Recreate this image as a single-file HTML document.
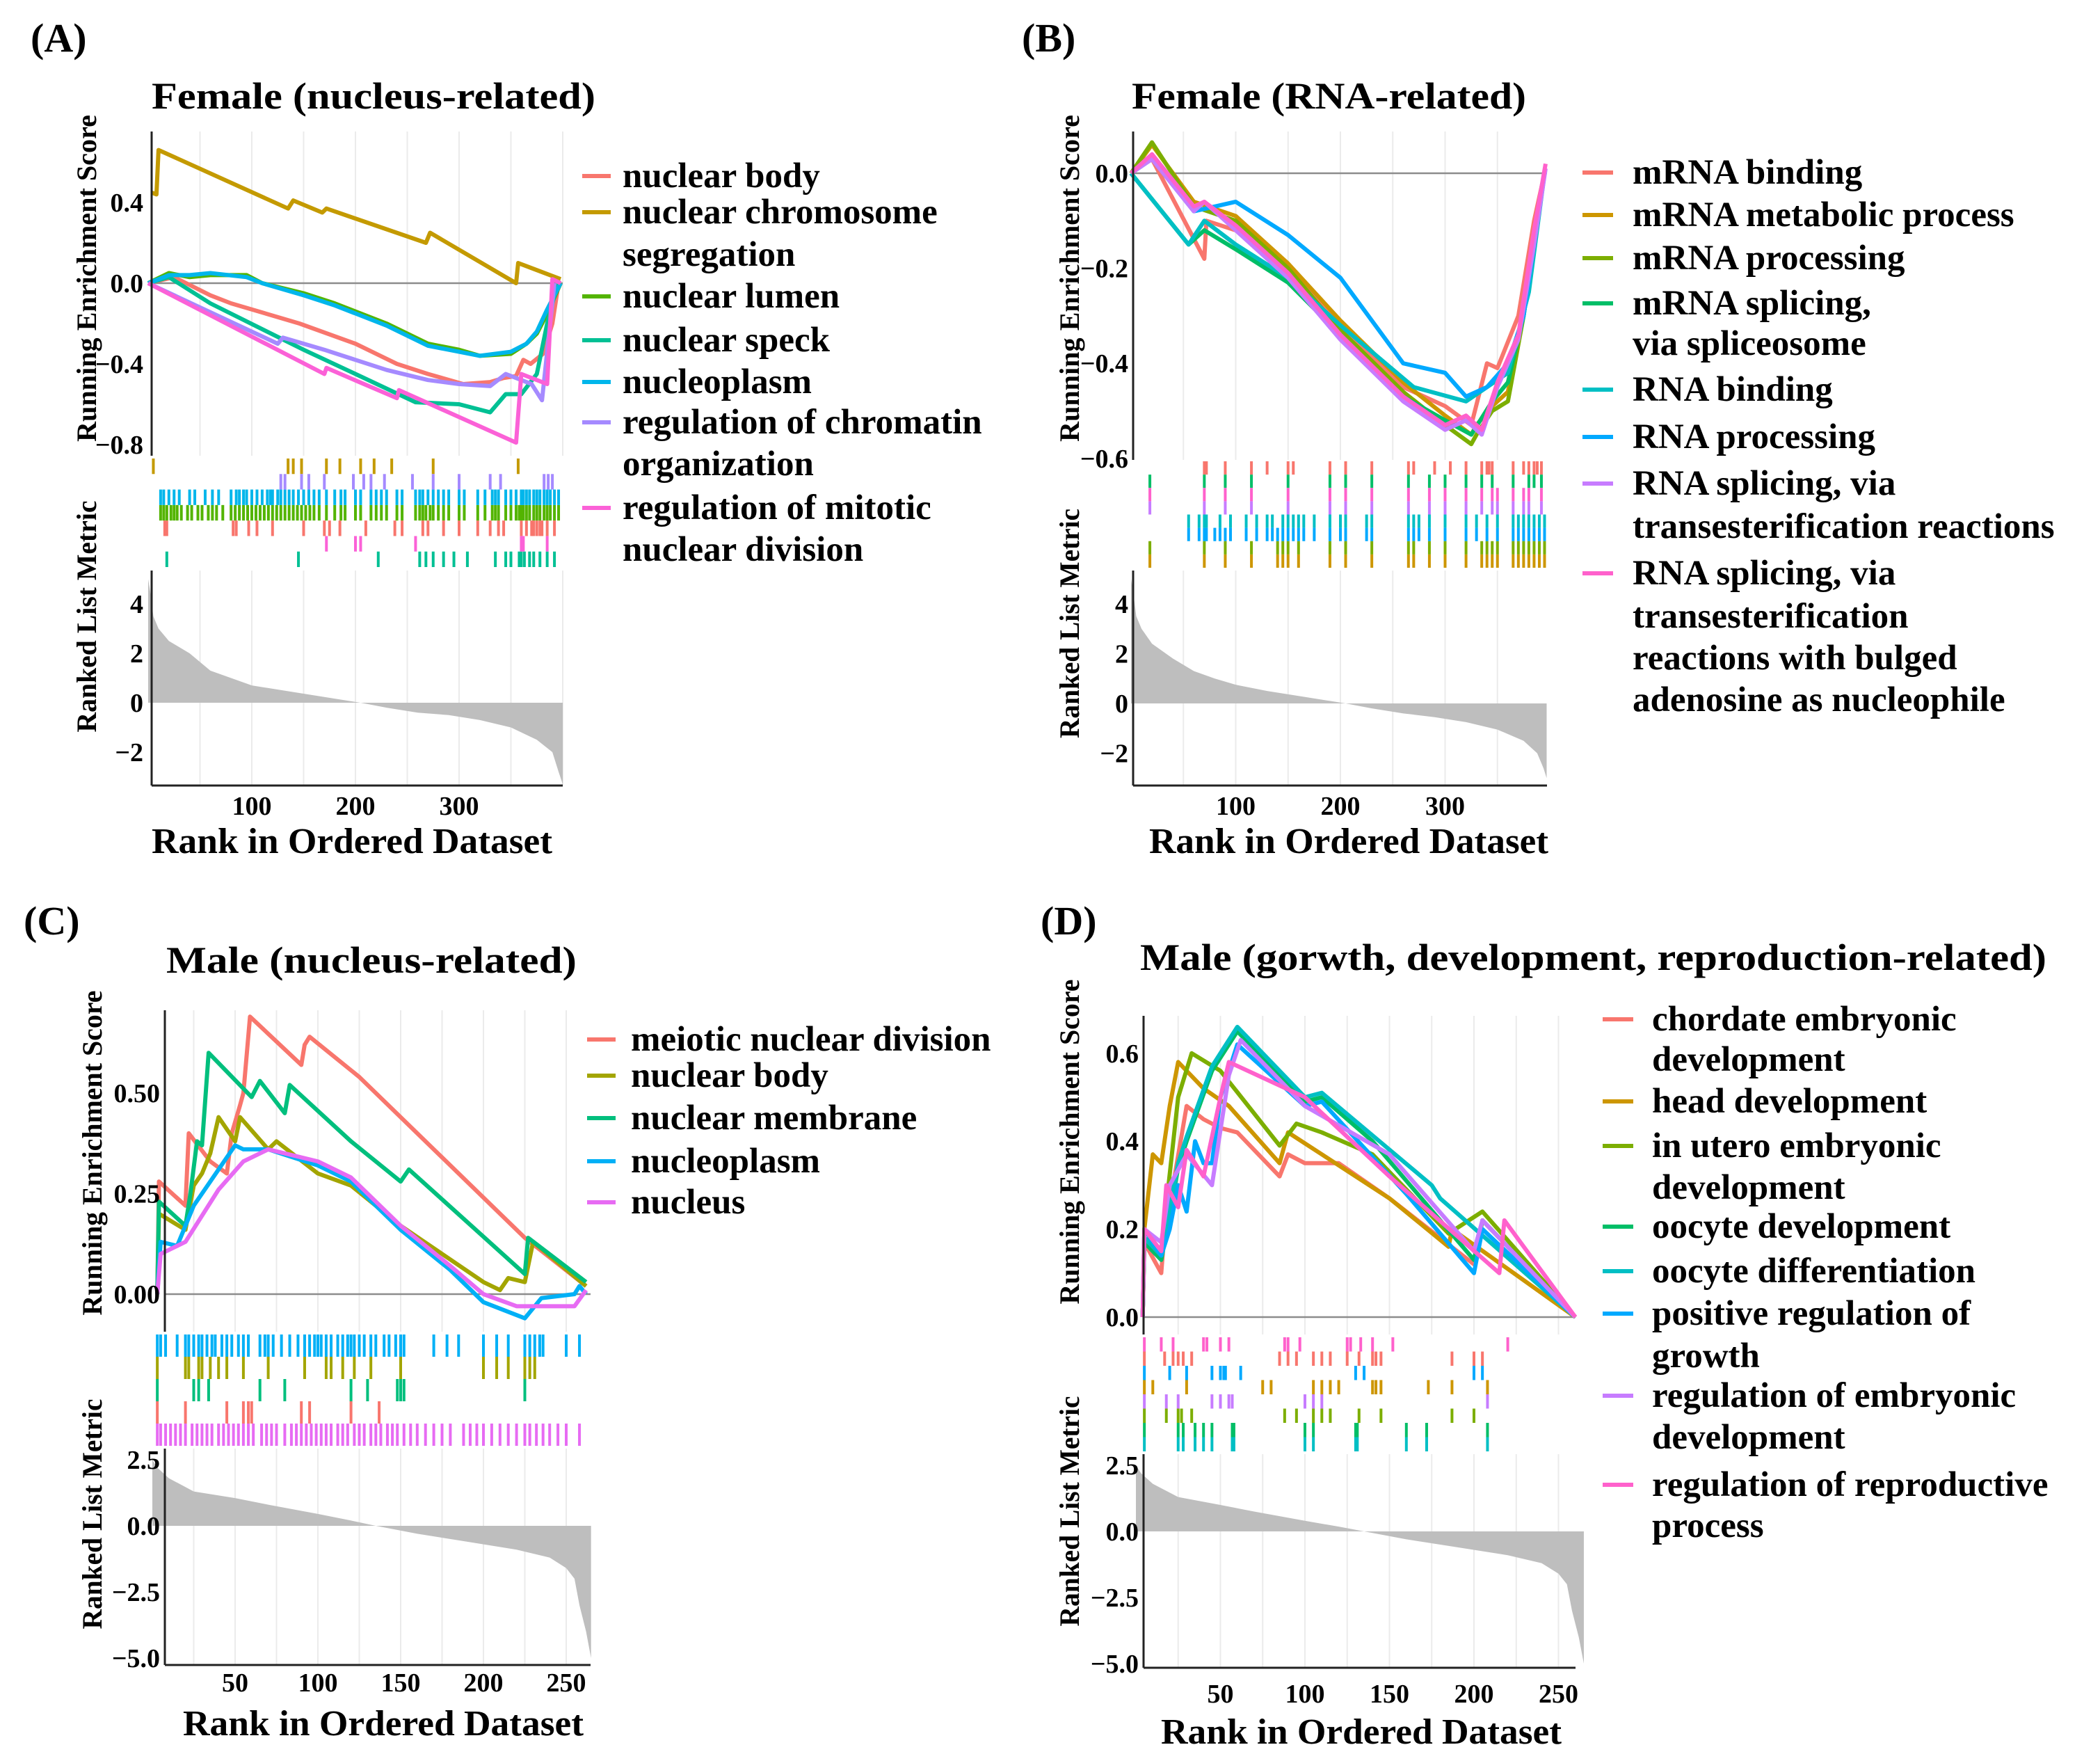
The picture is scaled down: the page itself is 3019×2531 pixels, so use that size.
<!DOCTYPE html>
<html><head><meta charset="utf-8"><style>
html,body{margin:0;padding:0;background:#fff;}
svg{display:block;font-family:"Liberation Serif",serif;font-weight:bold;}
</style></head><body>
<svg id="chart" width="3019" height="2531" viewBox="0 0 3019 2531" xmlns="http://www.w3.org/2000/svg">
<text x="44" y="74" font-size="58">(A)</text>
<text x="1469" y="74" font-size="58">(B)</text>
<text x="34" y="1343" font-size="58">(C)</text>
<text x="1496" y="1343" font-size="58">(D)</text>
</svg>
<script>
// ---------- DATA: Panel A ----------
const xTicksA=[100,200,300];
const esTicksA=[0.4,0,-0.4,-0.8];
const esTickLabelsA=['0.4','0.0','\u22120.4','\u22120.8'];
const mTicksA=[4,2,0,-2];
const mTickLabelsA=['4','2','0','\u22122'];
const esA_body=[[0,0],[25,0.03],[60,-0.06],[80,-0.1],[100,-0.13],[146,-0.2],[200,-0.3],[240,-0.4],[270,-0.45],[304,-0.5],[330,-0.49],[343,-0.47],[355,-0.46],[362,-0.38],[369,-0.4],[381,-0.35],[390,-0.2],[396,0]];
const esA_chrom=[[3,0.45],[8,0.44],[10,0.66],[135,0.37],[140,0.41],[168,0.35],[172,0.37],[268,0.2],[272,0.25],[355,0],[357,0.1],[398,0.02]];
const esA_lumen=[[0,0],[20,0.05],[40,0.03],[60,0.04],[95,0.04],[110,0],[150,-0.05],[180,-0.1],[230,-0.2],[270,-0.3],[300,-0.33],[320,-0.36],[350,-0.35],[365,-0.3],[375,-0.25],[385,-0.15],[398,0]];
const esA_speck=[[0,0],[20,0.03],[60,-0.1],[150,-0.33],[200,-0.45],[258,-0.59],[300,-0.6],[330,-0.64],[345,-0.55],[360,-0.55],[375,-0.45],[385,-0.2],[395,0]];
const esA_nucleo=[[0,0],[20,0.04],[40,0.04],[60,0.05],[95,0.03],[110,0],[150,-0.06],[180,-0.11],[230,-0.21],[270,-0.31],[300,-0.34],[320,-0.36],[350,-0.34],[365,-0.3],[375,-0.24],[385,-0.13],[398,0]];
const esA_chromatin=[[0,0],[125,-0.3],[130,-0.27],[170,-0.33],[230,-0.43],[270,-0.48],[300,-0.5],[330,-0.51],[345,-0.45],[370,-0.5],[380,-0.58],[392,0]];
const esA_mitotic=[[0,0],[170,-0.45],[172,-0.42],[240,-0.57],[242,-0.53],[355,-0.79],[360,-0.45],[385,-0.5],[390,0.02],[398,0]];
const hitsA_chrom=[5,135,140,148,172,185,205,218,235,275,357];
const hitsA_chromatin=[128,132,148,155,170,198,208,215,228,255,275,300,330,340,382,386,390];
const hitsA_nucleo=[12,15,20,25,30,40,45,55,62,68,80,85,88,92,95,100,105,110,115,118,120,125,128,132,136,140,145,150,155,160,165,172,180,186,190,200,205,215,220,225,230,240,245,258,262,265,270,275,280,285,290,300,305,318,325,332,335,338,345,350,355,360,362,365,368,372,375,378,382,385,388,392,396];
const hitsA_lumen=[12,15,18,22,25,28,32,38,42,48,52,58,62,66,72,80,84,88,92,96,100,104,108,112,116,120,124,128,132,136,140,144,148,152,156,160,165,172,180,186,190,200,205,215,220,225,230,240,245,258,262,265,268,272,275,280,285,290,300,305,318,325,332,335,338,345,350,355,358,360,362,365,368,372,375,378,382,385,388,392,396];
const hitsA_body=[16,18,82,85,97,105,120,150,170,175,185,210,238,245,265,270,285,300,318,330,338,343,360,365,370,372,375,378,380,385,392];
const hitsA_mitotic=[172,200,205,258,360,362,385];
const hitsA_speck=[18,145,222,262,268,275,285,295,308,335,345,350,358,360,363,368,372,378,385,392];
const mRanksA=[0,2,5,10,20,40,60,80,100,130,160,190,205,230,260,290,320,350,375,390,396,400];
const mValsA=[5,4.5,3.5,3,2.5,2,1.3,1,0.7,0.5,0.3,0.1,0,-0.2,-0.4,-0.5,-0.7,-1,-1.5,-2,-2.8,-3.3];

// ---------- DATA: Panel B ----------
const xTicksB=[100,200,300];
const esTicksB=[0,-0.2,-0.4,-0.6];
const esTickLabelsB=['0.0','\u22120.2','\u22120.4','\u22120.6'];
const mTicksB=[4,2,0,-2];
const mTickLabelsB=['4','2','0','\u22122'];
const esB_mbind=[[0,0],[20,0.03],[70,-0.18],[72,-0.1],[100,-0.12],[150,-0.2],[200,-0.32],[260,-0.45],[280,-0.47],[300,-0.49],[325,-0.53],[340,-0.4],[350,-0.41],[370,-0.3],[385,-0.1],[395,0]];
const esB_mmeta=[[0,0],[20,0.06],[60,-0.06],[100,-0.09],[150,-0.19],[200,-0.31],[260,-0.44],[300,-0.51],[325,-0.55],[330,-0.53],[345,-0.49],[360,-0.46],[375,-0.29],[385,-0.14],[395,0]];
const esB_mproc=[[0,0],[20,0.065],[60,-0.07],[100,-0.1],[150,-0.2],[200,-0.33],[260,-0.46],[300,-0.53],[325,-0.57],[330,-0.55],[345,-0.5],[360,-0.48],[375,-0.3],[385,-0.15],[395,0]];
const esB_msplice=[[0,0],[55,-0.15],[70,-0.12],[100,-0.16],[150,-0.23],[200,-0.34],[260,-0.47],[300,-0.52],[325,-0.55],[345,-0.48],[360,-0.44],[375,-0.3],[385,-0.15],[395,0]];
const esB_rbind=[[0,0],[55,-0.15],[70,-0.1],[100,-0.15],[150,-0.22],[200,-0.32],[270,-0.45],[320,-0.48],[340,-0.45],[360,-0.42],[380,-0.25],[395,0]];
const esB_rproc=[[0,0],[20,0.03],[60,-0.08],[100,-0.06],[150,-0.13],[200,-0.22],[260,-0.4],[300,-0.42],[320,-0.47],[340,-0.45],[360,-0.4],[375,-0.3],[385,-0.15],[395,0]];
const esB_rsplice=[[0,0],[20,0.03],[60,-0.08],[70,-0.06],[100,-0.12],[150,-0.22],[200,-0.35],[260,-0.48],[300,-0.54],[320,-0.52],[335,-0.55],[350,-0.45],[370,-0.35],[385,-0.15],[396,0.01]];
const esB_rbulged=[[0,0],[20,0.04],[60,-0.07],[70,-0.06],[100,-0.11],[150,-0.21],[200,-0.34],[260,-0.47],[300,-0.53],[320,-0.51],[335,-0.54],[350,-0.44],[370,-0.34],[385,-0.12],[396,0.02]];
const hitsB_red=[70,72,90,115,130,150,155,190,205,230,265,270,290,305,320,335,340,342,345,365,375,380,385,388,392];
const hitsB_green=[18,70,90,115,150,190,205,230,265,285,300,320,335,345,365,380,385,392];
const hitsB_pink=[18,70,90,115,150,190,205,230,265,285,300,320,335,345,350,365,375,380,392];
const hitsB_purple=[18,70,90,115,150,190,205,230,265,285,300,320,335,345,350,365,375,380,392];
const hitsB_cyan=[55,65,70,72,85,95,110,120,130,135,145,150,155,160,165,175,190,200,205,225,230,265,270,275,285,300,320,330,340,350,365,370,375,380,385,390,395];
const hitsB_blue=[55,65,70,72,80,85,90,95,110,120,130,135,140,145,150,155,160,165,175,190,200,205,225,230,265,270,275,285,300,320,330,340,350,365,370,375,380,385,390,395];
const hitsB_olive=[18,70,90,115,140,145,150,160,190,205,230,265,270,285,300,320,335,340,345,350,365,370,375,380,385,390,395];
const hitsB_gold=[18,70,90,115,140,145,150,160,190,205,230,265,270,285,300,320,335,340,345,350,365,370,375,380,385,390,395];
const mRanksB=[0,2,5,10,20,40,60,80,100,130,160,190,205,230,260,290,320,350,375,388,394,397];
const mValsB=[5,4.5,3.5,3,2.4,1.8,1.3,1,0.75,0.5,0.3,0.1,0,-0.2,-0.4,-0.55,-0.75,-1.05,-1.5,-2,-2.6,-3];

// ---------- DATA: Panel C ----------
const xTicksC=[50,100,150,200,250];
const esTicksC=[0.5,0.25,0];
const esTickLabelsC=['0.50','0.25','0.00'];
const mTicksC=[2.5,0,-2.5,-5];
const mTickLabelsC=['2.5','0.0','\u22122.5','\u22125.0'];
const esC_meiotic=[[3,0],[4,0.28],[20,0.22],[22,0.4],[35,0.33],[45,0.3],[48,0.4],[53,0.47],[55,0.5],[59,0.69],[90,0.57],[92,0.62],[95,0.64],[125,0.54],[225,0.14],[262,0.02]];
const esC_body=[[3,0],[4,0.2],[20,0.16],[25,0.27],[30,0.3],[35,0.35],[40,0.44],[50,0.38],[53,0.44],[70,0.36],[75,0.38],[100,0.3],[120,0.27],[150,0.17],[200,0.03],[210,0.01],[215,0.04],[225,0.03],[230,0.13],[262,0.02]];
const esC_membrane=[[3,0],[4,0.23],[20,0.17],[23,0.25],[27,0.38],[30,0.37],[34,0.6],[60,0.49],[65,0.53],[80,0.45],[83,0.52],[120,0.38],[150,0.28],[155,0.31],[225,0.05],[227,0.14],[262,0.03]];
const esC_nucleo=[[3,0],[5,0.13],[15,0.12],[25,0.22],[35,0.28],[50,0.37],[55,0.36],[70,0.36],[100,0.32],[120,0.28],[150,0.16],[180,0.06],[200,-0.02],[225,-0.06],[235,-0.01],[255,0],[258,0.02],[262,0]];
const esC_nucleus=[[3,0],[5,0.1],[20,0.13],[40,0.26],[55,0.33],[70,0.36],[100,0.33],[120,0.29],[150,0.17],[180,0.07],[200,0],[220,-0.03],[240,-0.03],[255,-0.03],[262,0.01]];
const hitsC_nucleo=[3,5,8,15,20,22,25,28,30,33,36,38,42,45,48,52,55,58,65,68,70,73,78,83,88,92,95,98,100,102,105,108,112,115,118,120,122,125,128,132,135,140,143,147,150,152,170,178,185,200,208,215,225,228,231,234,236,250,258];
const hitsC_body=[3,20,22,28,30,35,40,45,55,70,92,105,108,115,122,132,150,200,208,215,225,228,231];
const hitsC_membrane=[3,25,28,34,65,80,120,130,148,150,152,225];
const hitsC_meiotic=[3,20,45,55,58,60,90,95,120,137];
const hitsC_nucleus=[3,5,8,11,14,17,20,24,27,30,33,36,40,43,46,49,52,55,58,61,66,69,72,75,80,84,87,90,93,96,99,102,105,108,112,115,118,122,125,128,132,135,138,142,145,148,152,156,160,165,170,175,180,188,192,196,200,205,210,215,220,225,228,232,236,240,245,250,258];
const mRanksC=[0,3,10,25,50,70,100,120,135,160,190,220,240,250,255,258,262,265];
const mValsC=[2.5,2.2,1.8,1.3,1.05,0.8,0.45,0.2,0,-0.3,-0.6,-0.9,-1.2,-1.6,-2,-3,-4,-5];

// ---------- DATA: Panel D ----------
const xTicksD=[50,100,150,200,250];
const esTicksD=[0.6,0.4,0.2,0];
const esTickLabelsD=['0.6','0.4','0.2','0.0'];
const mTicksD=[2.5,0,-2.5,-5];
const mTickLabelsD=['2.5','0.0','\u22122.5','\u22125.0'];
const esD_chordate=[[4,0],[5,0.17],[15,0.1],[17,0.2],[22,0.3],[30,0.48],[40,0.45],[50,0.43],[60,0.42],[85,0.32],[90,0.37],[100,0.35],[120,0.35],[150,0.27],[200,0.12],[205,0.22],[260,0]];
const esD_head=[[4,0],[5,0.2],[10,0.37],[15,0.35],[20,0.48],[25,0.58],[40,0.52],[55,0.48],[85,0.35],[90,0.42],[110,0.37],[130,0.32],[150,0.27],[185,0.16],[187,0.2],[260,0]];
const esD_utero=[[4,0],[5,0.18],[15,0.15],[25,0.5],[33,0.6],[50,0.56],[85,0.39],[95,0.44],[110,0.42],[140,0.37],[185,0.19],[205,0.24],[260,0]];
const esD_oodev=[[4,0],[5,0.17],[15,0.13],[25,0.34],[30,0.4],[45,0.56],[60,0.65],[100,0.49],[110,0.5],[140,0.4],[200,0.13],[205,0.22],[260,0]];
const esD_oodiff=[[4,0],[5,0.18],[15,0.14],[25,0.35],[30,0.41],[45,0.57],[60,0.66],[100,0.5],[110,0.51],[175,0.3],[180,0.27],[260,0]];
const esD_growth=[[4,0],[5,0.2],[15,0.14],[20,0.2],[25,0.3],[30,0.24],[35,0.4],[40,0.35],[45,0.35],[50,0.5],[60,0.62],[100,0.48],[110,0.49],[160,0.28],[200,0.1],[205,0.2],[260,0]];
const esD_embryo=[[4,0],[5,0.2],[15,0.17],[20,0.3],[30,0.37],[45,0.3],[55,0.55],[62,0.63],[100,0.48],[150,0.37],[200,0.15],[205,0.22],[260,0]];
const esD_repro=[[4,0],[5,0.2],[15,0.15],[18,0.3],[25,0.25],[30,0.38],[40,0.32],[50,0.5],[55,0.58],[100,0.5],[150,0.32],[215,0.1],[218,0.22],[260,0]];
const hitsD_repro=[5,15,22,40,42,50,55,88,90,97,125,127,133,140,152,220];
const hitsD_chordate=[5,17,22,25,28,33,85,90,95,105,110,115,125,132,140,142,145,187,200,205];
const hitsD_growth=[5,20,30,45,50,52,53,62,130,135,200,205];
const hitsD_head=[5,10,30,75,80,105,110,115,120,140,142,145,173,187,208];
const hitsD_embryo=[5,18,25,45,50,55,57,100,105,110,208];
const hitsD_utero=[5,18,25,27,33,88,95,105,110,115,132,145,187,200];
const hitsD_oodev=[5,25,28,35,40,45,57,58,100,105,130,131,160,172,208];
const hitsD_oodiff=[5,25,28,35,40,45,57,58,100,105,130,131,160,172,208];
const mRanksD=[0,3,10,25,50,70,100,120,135,160,190,220,240,250,255,258,262,265];
const mValsD=[2.5,2.2,1.8,1.3,1.0,0.75,0.4,0.18,0,-0.3,-0.6,-0.9,-1.2,-1.6,-2,-3,-4,-5];

// ---------- DRAWING ----------
const NS='http://www.w3.org/2000/svg';
const svg=document.getElementById('chart');
function mk(tag,parent){const e=document.createElementNS(NS,tag);parent.appendChild(e);return e;}
function at(e,o){for(const k in o)e.setAttribute(k,o[k]);}

const panels=[
 {key:'a',x0:213,pxr:1.49,xl:218,xr:809,esTop:189,esBot:655,es0:407,esS:290,rugTop:659,rugBot:815,mTop:820,mBot:1129,m0:1010,mS:35.5,grid:50,gmax:400,
  xT:xTicksA,esT:esTicksA,esL:esTickLabelsA,mT:mTicksA,mL:mTickLabelsA,tickR:206,tickY:1171,
  title:'Female (nucleus-related)',titleX:218,titleY:156,titleW:638,xtX:218,xtY:1226,xtW:576,ytX:124,esYc:400,esYw:470,mYc:886,mYw:333,
  series:[
   {n:'nuclear body',c:'#F8766D',es:esA_body,h:hitsA_body,row:4},
   {n:'nuclear chromosome segregation',c:'#C49A00',es:esA_chrom,h:hitsA_chrom,row:0},
   {n:'nuclear lumen',c:'#53B400',es:esA_lumen,h:hitsA_lumen,row:3},
   {n:'nuclear speck',c:'#00C094',es:esA_speck,h:hitsA_speck,row:6},
   {n:'nucleoplasm',c:'#00B6EB',es:esA_nucleo,h:hitsA_nucleo,row:2},
   {n:'regulation of chromatin organization',c:'#A58AFF',es:esA_chromatin,h:hitsA_chromatin,row:1},
   {n:'regulation of mitotic nuclear division',c:'#FB61D7',es:esA_mitotic,h:hitsA_mitotic,row:5}],
  legend:{sx:837,sw:41,tx:895,entries:[[['nuclear body'],[253]],[['nuclear chromosome','segregation'],[305,366]],[['nuclear lumen'],[426]],[['nuclear speck'],[489]],[['nucleoplasm'],[549]],[['regulation of chromatin','organization'],[607,667]],[['regulation of mitotic','nuclear division'],[730,790]]]}},
 {key:'b',x0:1626,pxr:1.505,xl:1629,xr:2224,esTop:189,esBot:661,es0:249,esS:683,rugTop:663,rugBot:816,mTop:820,mBot:1129,m0:1011,mS:35.8,grid:50,gmax:397,
  xT:xTicksB,esT:esTicksB,esL:esTickLabelsB,mT:mTicksB,mL:mTickLabelsB,tickR:1622,tickY:1171,
  title:'Female (RNA-related)',titleX:1627,titleY:156,titleW:567,xtX:1652,xtY:1226,xtW:574,ytX:1537,esYc:400,esYw:470,mYc:896,mYw:330,
  series:[
   {n:'mRNA binding',c:'#F8766D',es:esB_mbind,h:hitsB_red,row:0},
   {n:'mRNA metabolic process',c:'#CD9600',es:esB_mmeta,h:hitsB_gold,row:7},
   {n:'mRNA processing',c:'#7CAE00',es:esB_mproc,h:hitsB_olive,row:6},
   {n:'mRNA splicing, via spliceosome',c:'#00BE67',es:esB_msplice,h:hitsB_green,row:1},
   {n:'RNA binding',c:'#00BFC4',es:esB_rbind,h:hitsB_cyan,row:4},
   {n:'RNA processing',c:'#00A9FF',es:esB_rproc,h:hitsB_blue,row:5},
   {n:'RNA splicing, via transesterification reactions',c:'#C77CFF',es:esB_rsplice,h:hitsB_purple,row:3},
   {n:'RNA splicing bulged adenosine',c:'#FF61CC',es:esB_rbulged,h:hitsB_pink,row:2}],
  legend:{sx:2275,sw:44,tx:2347,entries:[[['mRNA binding'],[248]],[['mRNA metabolic process'],[309]],[['mRNA processing'],[371]],[['mRNA splicing,','via spliceosome'],[436,494]],[['RNA binding'],[560]],[['RNA processing'],[628]],[['RNA splicing, via','transesterification reactions'],[695,757]],[['RNA splicing, via','transesterification','reactions with bulged','adenosine as nucleophile'],[824,886,946,1006]]]}},
 {key:'c',x0:219,pxr:2.38,xl:237,xr:849,esTop:1452,esBot:1914,es0:1860,esS:578,rugTop:1918,rugBot:2078,mTop:2082,mBot:2393,m0:2193,mS:38,grid:25,gmax:265,
  xT:xTicksC,esT:esTicksC,esL:esTickLabelsC,mT:mTicksC,mL:mTickLabelsC,tickR:230,tickY:2431,
  title:'Male (nucleus-related)',titleX:239,titleY:1398,titleW:590,xtX:263,xtY:2494,xtW:576,ytX:132,esYc:1657,esYw:467,mYc:2176,mYw:331,
  series:[
   {n:'meiotic nuclear division',c:'#F8766D',es:esC_meiotic,h:hitsC_meiotic,row:3},
   {n:'nuclear body',c:'#A3A500',es:esC_body,h:hitsC_body,row:1},
   {n:'nuclear membrane',c:'#00BF7D',es:esC_membrane,h:hitsC_membrane,row:2},
   {n:'nucleoplasm',c:'#00B0F6',es:esC_nucleo,h:hitsC_nucleo,row:0},
   {n:'nucleus',c:'#E76BF3',es:esC_nucleus,h:hitsC_nucleus,row:4}],
  legend:{sx:844,sw:41,tx:907,entries:[[['meiotic nuclear division'],[1494]],[['nuclear body'],[1546]],[['nuclear membrane'],[1607]],[['nucleoplasm'],[1669]],[['nucleus'],[1728]]]}},
 {key:'d',x0:1633,pxr:2.43,xl:1644,xr:2265,esTop:1460,esBot:1918,es0:1893,esS:632,rugTop:1922,rugBot:2086,mTop:2090,mBot:2397,m0:2201,mS:38,grid:25,gmax:260,
  xT:xTicksD,esT:esTicksD,esL:esTickLabelsD,mT:mTicksD,mL:mTickLabelsD,tickR:1637,tickY:2447,
  title:'Male (gorwth, development, reproduction-related)',titleX:1639,titleY:1394,titleW:1303,xtX:1669,xtY:2506,xtW:576,ytX:1537,esYc:1641,esYw:467,mYc:2172,mYw:331,
  series:[
   {n:'chordate embryonic development',c:'#F8766D',es:esD_chordate,h:hitsD_chordate,row:1},
   {n:'head development',c:'#CD9600',es:esD_head,h:hitsD_head,row:3},
   {n:'in utero embryonic development',c:'#7CAE00',es:esD_utero,h:hitsD_utero,row:5},
   {n:'oocyte development',c:'#00BE67',es:esD_oodev,h:hitsD_oodev,row:6},
   {n:'oocyte differentiation',c:'#00BFC4',es:esD_oodiff,h:hitsD_oodiff,row:7},
   {n:'positive regulation of growth',c:'#00A9FF',es:esD_growth,h:hitsD_growth,row:2},
   {n:'regulation of embryonic development',c:'#C77CFF',es:esD_embryo,h:hitsD_embryo,row:4},
   {n:'regulation of reproductive process',c:'#FF61CC',es:esD_repro,h:hitsD_repro,row:0}],
  legend:{sx:2304,sw:44,tx:2375,entries:[[['chordate embryonic','development'],[1465,1523]],[['head development'],[1583]],[['in utero embryonic','development'],[1647,1707]],[['oocyte development'],[1763]],[['oocyte differentiation'],[1827]],[['positive regulation of','growth'],[1888,1949]],[['regulation of embryonic','development'],[2006,2066]],[['regulation of reproductive','process'],[2134,2193]]]}}
];

function mRanksOf(p){return {a:mRanksA,b:mRanksB,c:mRanksC,d:mRanksD}[p.key];}
function mValsOf(p){return {a:mValsA,b:mValsB,c:mValsC,d:mValsD}[p.key];}

panels.forEach(p=>{
 const g=mk('g',svg);
 
 
 const xs=r=>p.x0+r*p.pxr;
 const ys=v=>p.es0-v*p.esS;
 const ms=v=>p.m0-v*p.mS;
 for(let r=p.grid;r<=p.gmax;r+=p.grid){
  const x=xs(r); if(x>p.xr) break;
  const l1=mk('line',g); at(l1,{x1:x,x2:x,y1:p.esTop,y2:p.esBot,stroke:'#EBEBEB','stroke-width':2});
  
  
  const l2=mk('line',g); at(l2,{x1:x,x2:x,y1:p.mTop,y2:p.mBot,stroke:'#EBEBEB','stroke-width':2});
  
  
 }
 const z=mk('line',g); at(z,{x1:p.xl,x2:p.xr,y1:ys(0),y2:ys(0),stroke:'#8c8c8c','stroke-width':2.5});
 
 
 const mr=mRanksOf(p), mv=mValsOf(p);
 let pts=[[xs(mr[0]),ms(0)]];
 for(let i=0;i<mr.length;i++) pts.push([xs(mr[i]),ms(mv[i])]);
 pts.push([xs(mr[mr.length-1]),ms(0)]);
 const area=mk('polygon',g); at(area,{points:pts.map(q=>q.join(',')).join(' '),fill:'#BEBEBE'});
 
 
 p.series.forEach(s=>{
  const pl=mk('polyline',g);
  at(pl,{points:s.es.map(q=>xs(q[0])+','+ys(q[1])).join(' '),fill:'none',stroke:s.c,'stroke-width':6,'stroke-linejoin':'round'});
  
  
 });
 const nrows=p.series.length, rh=(p.rugBot-p.rugTop)/nrows;
 p.series.forEach(s=>{
  s.h.forEach(r=>{
   const t=mk('line',g);
   at(t,{x1:xs(r),x2:xs(r),y1:p.rugTop+s.row*rh,y2:p.rugTop+(s.row+1)*rh,stroke:s.c,'stroke-width':4});
   
   
  });
 });
 const ax=mk('line',g); at(ax,{x1:p.xl,x2:p.xl,y1:p.esTop,y2:p.esBot,stroke:'#222','stroke-width':3});
 
 
 const ax2=mk('line',g); at(ax2,{x1:p.xl,x2:p.xl,y1:p.mTop,y2:p.mBot,stroke:'#222','stroke-width':3});
 
 
 const ax3=mk('line',g); at(ax3,{x1:p.xl,x2:p.xr,y1:p.mBot,y2:p.mBot,stroke:'#222','stroke-width':3});
 
 
 p.esT.forEach((v,i)=>{
  const t=mk('text',g); at(t,{x:p.tickR,y:ys(v)+13,'font-size':38,'text-anchor':'end'}); t.textContent=p.esL[i];
  
  
 });
 p.mT.forEach((v,i)=>{
  const t=mk('text',g); at(t,{x:p.tickR,y:ms(v)+13,'font-size':38,'text-anchor':'end'}); t.textContent=p.mL[i];
  
  
 });
 p.xT.forEach(v=>{
  const t=mk('text',g); at(t,{x:xs(v),y:p.tickY,'font-size':38,'text-anchor':'middle'}); t.textContent=String(v);
  
  
 });
 const tt=mk('text',g); at(tt,{x:p.titleX,y:p.titleY,'font-size':54,textLength:p.titleW,lengthAdjust:'spacingAndGlyphs'}); tt.textContent=p.title;
 
 
 const xt=mk('text',g); at(xt,{x:p.xtX,y:p.xtY,'font-size':52,textLength:p.xtW,lengthAdjust:'spacingAndGlyphs'}); xt.textContent='Rank in Ordered Dataset';
 
 
 const yt=mk('text',g); at(yt,{x:0,y:0,'font-size':40,'text-anchor':'middle',textLength:p.esYw,lengthAdjust:'spacingAndGlyphs',transform:'translate('+(p.ytX+14)+','+p.esYc+') rotate(-90)'}); yt.textContent='Running Enrichment Score';
 
 
 const yt2=mk('text',g); at(yt2,{x:0,y:0,'font-size':40,'text-anchor':'middle',textLength:p.mYw,lengthAdjust:'spacingAndGlyphs',transform:'translate('+(p.ytX+14)+','+p.mYc+') rotate(-90)'}); yt2.textContent='Ranked List Metric';
 
 
 p.legend.entries.forEach((e,i)=>{
  const lg=mk('g',g);
  
  
  const sw=mk('line',lg); at(sw,{x1:p.legend.sx,x2:p.legend.sx+p.legend.sw,y1:e[1][0],y2:e[1][0],stroke:p.series[i].c,'stroke-width':6});
  
  
  e[0].forEach((line,j)=>{
   const t=mk('text',lg); at(t,{x:p.legend.tx,y:e[1][j]+16,'font-size':51}); t.textContent=line;
   
   
  });
 });
});
</script>
</body></html>
